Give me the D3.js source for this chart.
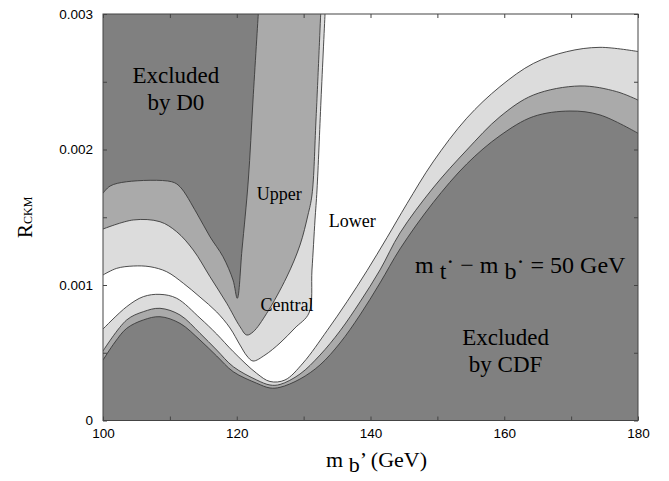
<!DOCTYPE html>
<html>
<head>
<meta charset="utf-8">
<script src="https://cdnjs.cloudflare.com/ajax/libs/d3/7.8.5/d3.min.js"></script>
<title>R_CKM vs m_b'</title>
<style>
body { margin: 0; background: #fff; }
svg { display: block; }
.tick text { font: 13.5px "Liberation Sans", Arial, sans-serif; fill: #000; }
.tick line { stroke: #444; }
.lbl { font-family: "Liberation Serif", "Times New Roman", serif; fill: #000; }
.edge { fill: none; stroke: #3a3a3a; stroke-width: 0.9; }
</style>
</head>
<body>
<script>

// tick labels
var xTickLabels = [100, 120, 140, 160, 180];
var yTickLabels = ["0", "0.001", "0.002", "0.003"];

// boundary curves [m_b' (GeV), R_CKM]
// lower side (CDF): tops of the dark, medium and light bands
var cdfDark = [[100,0.000446],[101.8,0.000579],[103.54,0.00068],[106.03,0.000742],[108.52,0.000766],
  [111.51,0.000717],[114.5,0.000594],[117,0.000476],[119.48,0.00036],[122.98,0.000275],[124.97,0.00024],
  [126.47,0.000245],[129.46,0.000306],[132.45,0.00041],[135.44,0.000572],[138.43,0.000779],[141.42,0.001015],
  [144.41,0.001266],[149.35,0.001607],[154.39,0.001893],[159.36,0.002102],[164.35,0.002243],[169.84,0.002284],
  [174.32,0.002255],[180,0.00212]];
var cdfMid = [[100,0.000513],[103.54,0.000742],[106.03,0.000803],[108.52,0.000828],[111.51,0.000779],
  [114.5,0.000644],[117,0.00052],[119.48,0.000397],[122.98,0.000299],[124.97,0.000262],[126.47,0.000266],
  [129.46,0.000343],[132.45,0.000483],[135.44,0.000661],[138.43,0.000875],[141.42,0.001111],[144.41,0.001384],
  [149.35,0.001716],[154.39,0.001996],[159.36,0.002242],[164.35,0.002402],[171.33,0.002469],[176.82,0.002427],
  [180,0.002365]];
var cdfLight = [[100,0.000675],[103.54,0.00084],[106.03,0.000914],[108.52,0.000931],[111.02,0.000902],
  [114.5,0.000756],[117,0.000638],[119.48,0.000508],[122.98,0.000348],[124.97,0.000288],[127.21,0.000299],
  [129.91,0.000424],[133.5,0.000663],[136.49,0.000877],[139.48,0.001106],[142.47,0.00135],[145.46,0.001601],
  [149.35,0.001908],[154.39,0.002231],[159.36,0.002464],[164.35,0.002635],[169.34,0.002722],[174.32,0.002754],
  [180,0.002723]];

// upper side (D0): lower edges of the light, medium and dark regions
var d0Light = [[100,0.001074],[102.05,0.001123],[104.53,0.00114],[107.03,0.001135],[109.53,0.001098],
  [112.01,0.001013],[114.5,0.000911],[117,0.000801],[118.99,0.000683],[120.49,0.000557],[121.53,0.000476],
  [122.43,0.000439],[124.22,0.000483],[126.47,0.000572],[128.71,0.000683],[130.8,0.000793],[131.25,0.001111],
  [131.7,0.00148],[132,0.001701],[132.6,0.002365],[133.2,0.003]];
var d0Mid = [[100,0.001413],[104.53,0.00148],[108.52,0.001467],[111.02,0.001393],[113.5,0.001258],
  [116,0.001061],[118.5,0.000865],[120.49,0.000692],[121.49,0.000631],[122.47,0.000655],[124.48,0.000791],
  [127.47,0.001059],[129.46,0.001295],[130.65,0.001517],[131.25,0.001664],[131.85,0.002218],[132.55,0.003]];
var d0Dark = [[100,0.001677],[101.05,0.00173],[103.54,0.001762],[110.27,0.001762],[111.51,0.001725],
  [114.01,0.001531],[116,0.001356],[117.94,0.001209],[119.44,0.001037],[120.08,0.000902],[120.78,0.001258],
  [121.73,0.001775],[122.43,0.002365],[123.22,0.003]];

var colors = { dark: "#808080", mid: "#aaaaaa", light: "#dcdcdc" };

var width = 669, height = 481;
var x = d3.scaleLinear().domain([100, 180]).range([103, 638]);
var y = d3.scaleLinear().domain([0, 0.003]).range([420.5, 14]);

var svg = d3.select("body").append("svg")
  .attr("width", width)
  .attr("height", height);

svg.append("clipPath").attr("id", "plot")
  .append("rect")
  .attr("x", x(100)).attr("y", y(0.003))
  .attr("width", x(180) - x(100)).attr("height", y(0) - y(0.003));

var g = svg.append("g").attr("clip-path", "url(#plot)");

g.append("rect")
  .attr("x", x(100)).attr("y", y(0.003))
  .attr("width", x(180) - x(100)).attr("height", y(0) - y(0.003))
  .attr("fill", "#fff");

var line = d3.line().x(d => x(d[0])).y(d => y(d[1])).curve(d3.curveCatmullRom);
var area = d3.area().x(d => x(d[0])).y0(y(0)).y1(d => y(d[1])).curve(d3.curveCatmullRom);

// D0 side, closed through the top-left corner
[[d0Light, colors.light], [d0Mid, colors.mid], [d0Dark, colors.dark]].forEach(function(b) {
  g.append("path")
    .attr("d", line(b[0]) + "L" + x(100) + "," + y(0.003) + "Z")
    .attr("fill", b[1]);
  g.append("path").attr("class", "edge").attr("d", line(b[0]));
});

// CDF side, filled down to zero
[[cdfLight, colors.light], [cdfMid, colors.mid], [cdfDark, colors.dark]].forEach(function(b) {
  g.append("path").attr("d", area(b[0])).attr("fill", b[1]);
  g.append("path").attr("class", "edge").attr("d", line(b[0]));
});

// axes, ticks pointing inward
var xTicks = d3.range(100, 181, 10);
var yTicks = d3.range(0, 7).map(i => i * 0.0005);
var xFmt = d => xTickLabels.indexOf(d) >= 0 ? d : "";
var yFmt = function(d) {
  var k = Math.round(d / 0.001);
  return Math.abs(d - k * 0.001) < 1e-9 ? yTickLabels[k] : "";
};

svg.append("g").attr("transform", "translate(0," + y(0) + ")")
  .call(d3.axisBottom(x).tickValues(xTicks).tickFormat(xFmt).tickSizeInner(-4).tickSizeOuter(0).tickPadding(8))
  .call(a => a.select(".domain").remove());
svg.append("g").attr("transform", "translate(0," + y(0.003) + ")")
  .call(d3.axisTop(x).tickValues(xTicks).tickFormat("").tickSizeInner(-4).tickSizeOuter(0))
  .call(a => a.select(".domain").remove());
svg.append("g").attr("transform", "translate(" + x(100) + ",0)")
  .call(d3.axisLeft(y).tickValues(yTicks).tickFormat(yFmt).tickSizeInner(-4).tickSizeOuter(0).tickPadding(10))
  .call(a => a.select(".domain").remove());
svg.append("g").attr("transform", "translate(" + x(180) + ",0)")
  .call(d3.axisRight(y).tickValues(yTicks).tickFormat("").tickSizeInner(-4).tickSizeOuter(0))
  .call(a => a.select(".domain").remove());

svg.append("rect")
  .attr("x", x(100)).attr("y", y(0.003))
  .attr("width", x(180) - x(100)).attr("height", y(0) - y(0.003))
  .attr("fill", "none").attr("stroke", "#444").attr("stroke-width", 1);

// region labels
function label(txt, m, r, size) {
  return svg.append("text").attr("class", "lbl")
    .attr("x", x(m)).attr("y", y(r))
    .attr("text-anchor", "middle")
    .style("font-size", size + "px")
    .text(txt);
}
label("Excluded", 110.9, 0.00249, 23);
label("by D0", 110.9, 0.00229, 23);
label("Upper", 126.35, 0.001627, 18);
label("Central", 127.5, 0.00081, 18);
label("Lower", 137.26, 0.001426, 18);
label("Excluded", 160.2, 0.000557, 23);
label("by CDF", 160.2, 0.00036, 23);

var f = svg.append("text").attr("class", "lbl")
  .attr("x", x(146.65)).attr("y", y(0.001086))
  .style("font-size", "24px");
f.append("tspan").text("m ");
f.append("tspan").attr("dy", 6).text("t");
f.append("tspan").attr("dy", -10).text("\u00b7");
f.append("tspan").attr("dy", 4).text(" \u2212 m ");
f.append("tspan").attr("dy", 6).text("b");
f.append("tspan").attr("dy", -10).text("\u00b7");
f.append("tspan").attr("dy", 4).text(" = 50 GeV");

// axis titles
var xt = svg.append("text").attr("class", "lbl")
  .attr("x", x(133.35)).attr("y", 467)
  .style("font-size", "22px");
xt.append("tspan").text("m ");
xt.append("tspan").attr("dy", 5).text("b");
xt.append("tspan").attr("dy", -5).text("\u2019 (GeV)");

var yt = svg.append("text").attr("class", "lbl")
  .attr("transform", "translate(32," + (y(0) + y(0.003)) / 2 + ") rotate(-90)")
  .attr("text-anchor", "middle")
  .style("font-size", "21px");
yt.append("tspan").text("R");
yt.append("tspan").style("font-size", "12px").text("CKM");

</script>
</body>
</html>
